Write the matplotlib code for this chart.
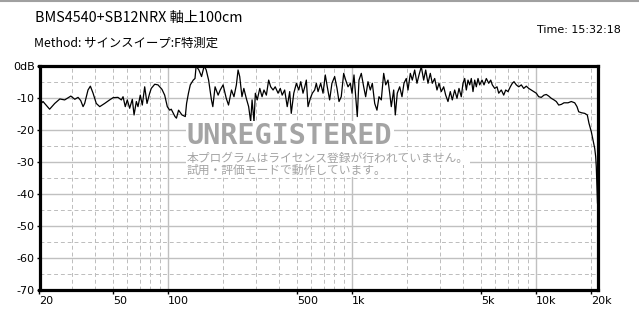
import matplotlib
matplotlib.use("Agg")
import matplotlib.pyplot as plt
import numpy as np

# ---- data ----
freq_hz = [20, 20.9, 22.7, 24.2, 25.8, 27.4, 29.6, 31.1, 32.4, 33.5, 34.5, 35.2, 36.7, 37.8, 39.1,
           40.7, 42.5, 45.2, 48.1, 50.2, 53.4, 55.7, 56.9, 58.5, 60.0, 61.8, 63.9, 65.3, 67.2, 68.6,
           70.6, 72.4, 74.6, 76.8, 79.4, 81.0, 84.6, 88.1, 92.6, 95.8, 99.0, 102, 104, 109, 111,
           114, 119, 124, 126, 129, 132, 137, 140, 142, 147, 152, 157, 161, 166, 172, 175, 180,
           187, 192, 199, 207, 213, 221, 228, 235, 240, 245, 252, 258, 266, 274, 281, 286, 293,
           298, 305, 315, 324, 332, 342, 352, 361, 372, 382, 396, 407, 417, 430, 444, 458, 467,
           482, 498, 513, 526, 541, 553, 564, 576, 593, 608, 626, 639, 653, 675, 695, 715, 733,
           755, 777, 804, 828, 849, 873, 900, 923, 950, 978, 999, 1024, 1046, 1067, 1090, 1122,
           1156, 1185, 1220, 1256, 1288, 1327, 1365, 1400, 1441, 1485, 1523, 1567, 1601, 1633,
           1683, 1717, 1760, 1814, 1867, 1914, 1970, 2013, 2072, 2124, 2188, 2252, 2310, 2377,
           2449, 2512, 2585, 2661, 2728, 2811, 2893, 2967, 3053, 3146, 3226, 3320, 3417, 3504,
           3610, 3716, 3810, 3921, 4006, 4093, 4176, 4265, 4357, 4445, 4540, 4638, 4732, 4834,
           4938, 5083, 5212, 5364, 5527, 5667, 5782, 5958, 6132, 6264, 6470, 6668, 6836, 7036,
           7242, 7426, 7586, 7808, 8046, 8312, 8564, 8848, 9118, 9418, 9742, 10024, 10328, 10672,
           11038, 11360, 11710, 12096, 12512, 12878, 13270, 13710, 14178, 14908, 15536, 16212,
           16684, 17042, 17608, 18370, 18978, 19382, 19950, 20380, 20820, 21080, 21240, 21560]
level_db = [-12.2, -11.1, -13.5, -11.7, -10.3, -10.6, -9.4, -10.4, -9.8, -10.8, -12.7, -11.7, -7.5, -6.3, -8.5,
            -11.7, -12.7, -11.7, -10.6, -9.9, -9.8, -10.6, -9.6, -12.7, -10.6, -13.2, -10.4, -15.3, -11.1, -12.7,
            -9.1, -12.2, -6.5, -11.7, -8.5, -7.0, -5.7, -5.9, -7.3, -9.1, -12.7, -13.8, -13.5, -15.8, -16.3,
            -13.8, -15.3, -15.8, -11.7, -8.5, -5.9, -4.4, -3.9, 0.0, -1.25, -3.3, 0.0, -1.2, -4.4, -10.6, -12.7, -6.5,
            -9.1, -7.5, -5.9, -10.1, -12.2, -7.5, -9.6, -5.9, -1.25, -3.3, -9.6, -7.0, -10.1, -12.7, -17.4, -10.6, -17.4,
            -8.5, -10.6, -7.0, -9.6, -7.5, -9.1, -4.4, -6.5, -7.5, -6.5, -8.5, -7.0, -9.1, -7.5, -12.7, -8.0, -14.8,
            -8.5, -5.4, -7.5, -4.9, -8.5, -6.5, -4.4, -12.7, -10.1, -8.5, -7.5, -5.4, -8.0, -5.4, -8.5, -2.8, -6.5,
            -10.6, -5.4, -3.3, -7.0, -11.1, -9.6, -2.3, -4.4, -6.5, -5.4, -8.5, -2.8, -9.6, -15.8, -4.4, -2.3,
            -6.5, -9.6, -4.9, -7.5, -5.4, -11.7, -13.8, -9.6, -10.6, -2.3, -5.9, -4.4, -8.5, -12.7,
            -7.5, -15.3, -8.5, -6.5, -9.6, -5.4, -3.9, -7.5, -2.3, -4.4, -1.25, -5.4, -2.8, -0.2,
            -4.4, -1.25, -5.4, -2.3, -5.4, -3.9, -7.5, -5.4, -8.0, -6.5, -9.1, -11.1, -8.0, -10.6,
            -7.5, -10.1, -7.0, -9.6, -5.4, -3.9, -7.5, -4.4, -5.9, -3.9, -8.0, -4.4, -6.5, -3.9,
            -5.9, -4.4, -5.9, -3.9, -5.4, -4.4, -5.9, -7.0, -6.5, -8.5, -7.5, -9.1, -7.5, -8.0,
            -6.5, -5.4, -4.9, -5.9, -6.5, -5.9, -7.0, -6.3, -7.0, -7.5, -8.0, -8.5, -9.6, -9.8,
            -9.1, -8.9, -9.4, -10.1, -10.6, -11.1, -12.2, -12.0, -11.5, -11.5, -11.1, -11.5,
            -12.7, -14.3, -14.6, -14.8, -15.3, -17.9, -20.5, -23.1, -25.7, -28.3, -31.5, -42.8]

x_tick_values = [20, 50, 100, 500, 1000, 5000, 10000, 20000]
x_tick_labels = ["20", "50", "100", "500", "1k", "5k", "10k", "20k"]
y_tick_values = [0, -10, -20, -30, -40, -50, -60, -70]
y_tick_labels = ["0dB", "-10", "-20", "-30", "-40", "-50", "-60", "-70"]

title_text = "BMS4540+SB12NRX 軸上100cm"
method_text = "Method: サインスイープ:F特測定"
time_text = "Time: 15:32:18"
watermark_main = "UNREGISTERED"
watermark_sub1 = "本プログラムはライセンス登録が行われていません。"
watermark_sub2 = "試用・評価モードで動作しています。"

# ---- figure ----
W, H = 639, 323
fig = plt.figure(figsize=(W / 100, H / 100), dpi=100)
fig.patch.set_facecolor("white")
jp = ["Noto Sans CJK JP", "DejaVu Sans"]

ax = fig.add_axes([39.5 / W, 33 / H, (598 - 39.5) / W, 224 / H])
ax.set_xscale("log")
ax.set_xlim(20, 21700)
ax.set_ylim(-70, 0)

# grid
solid_c = "#c0c0c0"
dash_c = "#bcbcbc"
decades = [100, 1000, 10000]
minors = [m * d for d in [10, 100, 1000, 10000] for m in range(2, 10)]
minors = [f for f in minors if 20 < f <= 20000 and f not in decades]
for f in minors:
    ax.axvline(f, color=dash_c, lw=0.7, ls=(0, (4, 3)), zorder=1)
for f in decades:
    ax.axvline(f, color=solid_c, lw=1.0, zorder=1)
for v in range(-10, -70, -10):
    ax.axhline(v, color=solid_c, lw=1.0, zorder=1)
for v in range(-5, -70, -10):
    ax.axhline(v, color=dash_c, lw=0.7, ls=(0, (4, 3)), zorder=1)

ax.plot(freq_hz, level_db, color="black", lw=0.9, zorder=3)

for s in ax.spines.values():
    s.set_linewidth(2.3)
    s.set_color("black")
    s.set_zorder(5)

ax.set_xticks(x_tick_values)
ax.set_xticklabels(x_tick_labels)
ax.xaxis.set_minor_locator(matplotlib.ticker.NullLocator())
ax.set_yticks(y_tick_values)
ax.set_yticklabels(y_tick_labels)
ax.tick_params(axis="x", length=3, width=1, pad=1, labelsize=8, direction="out")
ax.tick_params(axis="y", length=2, width=1, pad=1.5, labelsize=8, direction="out")
for lbl in ax.get_xticklabels():
    lbl.set_ha("left")

# header texts
fig.text(35 / W, 1 - 18 / H, title_text, fontsize=10.3, family=jp, va="center", ha="left")
fig.text(34 / W, 1 - 43 / H, method_text, fontsize=8.9, family=jp, va="center", ha="left")
fig.text(621 / W, 1 - 30 / H, time_text, fontsize=8, family="DejaVu Sans", va="center", ha="right")

# top gray border
fig.add_artist(plt.Line2D([0, 1], [1 - 0.5 / H, 1 - 0.5 / H], color="#a0a0a0", lw=1.5))

# watermark
wm_c = "#a4a4a4"
fig.text(187 / W, 1 - 136 / H, watermark_main, fontsize=20.5, family="DejaVu Sans Mono", weight="bold",
         color=wm_c, va="center", ha="left", zorder=10,
         bbox=dict(facecolor="white", edgecolor="none", pad=1))
fig.text(187 / W, 1 - 158 / H, watermark_sub1, fontsize=8.5, family=jp, color=wm_c,
         va="center", ha="left", zorder=10,
         bbox=dict(facecolor="white", edgecolor="none", pad=0.5))
fig.text(187 / W, 1 - 170 / H, watermark_sub2, fontsize=8.5, family=jp, color=wm_c,
         va="center", ha="left", zorder=10,
         bbox=dict(facecolor="white", edgecolor="none", pad=0.5))

fig.savefig("out.png", dpi=100, facecolor="white")
